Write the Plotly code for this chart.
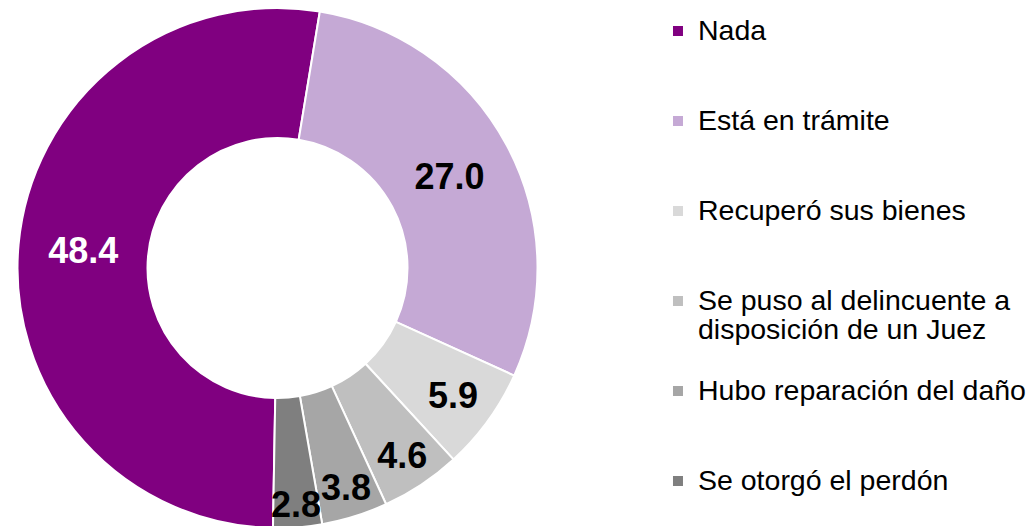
import plotly.graph_objects as go

categories = ["Nada", "Está en trámite", "Recuperó sus bienes",
              "Se puso al delincuente a<br>disposición de un Juez",
              "Hubo reparación del daño", "Se otorgó el perdón"]
values = [48.4, 27.0, 5.9, 4.6, 3.8, 2.8]
colors = ["#800080", "#C5A9D5", "#D9D9D9", "#BFBFBF", "#A6A6A6", "#7F7F7F"]
text_colors = ["white", "black", "black", "black", "black", "black"]

# legend entries padded with blank lines so each slot is ~90px tall
def legend_label(name, last):
    parts = name.split("<br>")
    lines = ['<span style="font-size:28.5px">' + p + "</span>" for p in parts]
    if not last:
        lines += ["\u00a0"] * (3 - len(lines))
    return "<br>".join(lines)

labels = [legend_label(c, i == len(categories) - 1) for i, c in enumerate(categories)]

fig = go.Figure(go.Pie(
    labels=labels,
    values=values,
    hole=0.5,
    sort=False,
    direction="clockwise",
    rotation=181,
    marker=dict(colors=colors, line=dict(color="white", width=2)),
    texttemplate="%{value:.1f}",
    textposition="inside",
    insidetextorientation="horizontal",
    textfont=dict(family="Arial, Liberation Sans", size=36, color=text_colors, weight="bold"),
    domain=dict(x=[0, 0.5203], y=[0, 1]),
    hoverinfo="label+value",
))

fig.update_layout(
    width=1036,
    height=526,
    margin=dict(l=0, r=0, t=0, b=6),
    paper_bgcolor="white",
    uniformtext=dict(minsize=36, mode="show"),
    legend=dict(
        x=0.6274, y=0.996, xanchor="left", yanchor="top",
        font=dict(family="Arial, Liberation Sans", size=22.3, color="black"),
        valign="top",
        bgcolor="rgba(0,0,0,0)",
    ),
)

fig.write_html("out.html")
